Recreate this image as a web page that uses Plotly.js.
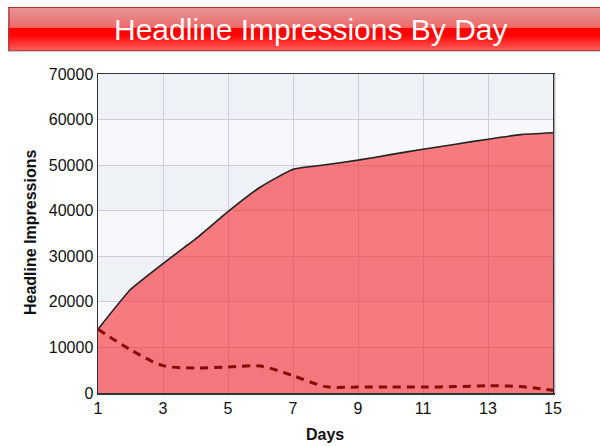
<!DOCTYPE html>
<html>
<head>
<meta charset="utf-8">
<script src="https://cdn.plot.ly/plotly-3.0.1.min.js"></script>
<style>html,body{margin:0;padding:0;background:#fff;}#chart{width:600px;height:446px;}</style>
</head>
<body>
<div id="chart"></div>
<script>
var days = [1,2,3,4,5,6,7,8,9,10,11,12,13,14,15];
var totalImpressions = [14000,22700,28400,33800,39800,45200,49100,50100,51100,52300,53500,54600,55700,56700,57100];
var newImpressions = [14000,9500,6000,5500,5700,5900,3800,1400,1300,1300,1300,1400,1600,1400,600];
var xTicks = [1,3,5,7,9,11,13,15];
var yTicks = [0,10000,20000,30000,40000,50000,60000,70000];
var titleText = 'Headline Impressions By Day';
var xTitle = 'Days';
var yTitle = 'Headline Impressions';

var M = {l:98, r:47, t:74, b:53};
var W = 600, H = 446;
var pw = W - M.l - M.r, ph = H - M.t - M.b;
function px2x(p){ return (p - M.l) / pw; }
function py2y(p){ return (H - M.b - p) / ph; }

var shapes = [];
// alternating background bands
[[0,10000],[20000,30000],[40000,50000],[60000,70000]].forEach(function(b){
  shapes.push({type:'rect', xref:'paper', yref:'y', x0:0, x1:1, y0:b[0], y1:b[1],
    fillcolor:'#eef1f5', line:{width:0}, layer:'below'});
});

// title bar gradient
var stops = [
  [7,[185,45,45]],
  [8,[230,150,150]],
  [26,[238,108,108]],
  [27,[244,95,95]],
  [28,[255,0,0]],
  [35,[255,5,5]],
  [49,[255,88,88]],
  [50,[195,70,70]],
  [51,[205,200,200]]
];
function colAt(y){
  for (var i=0;i<stops.length-1;i++){
    var a=stops[i], b=stops[i+1];
    if (y>=a[0] && y<=b[0]){
      var t=(b[0]===a[0])?0:(y-a[0])/(b[0]-a[0]);
      var c=a[1].map(function(v,k){return Math.round(v+(b[1][k]-v)*t);});
      return 'rgb('+c.join(',')+')';
    }
  }
  return 'rgb(255,255,255)';
}
for (var yy=7; yy<52; yy++){
  shapes.push({type:'rect', xref:'paper', yref:'paper', x0:px2x(8), x1:px2x(601),
    y0:py2y(yy+1), y1:py2y(yy), fillcolor:colAt(yy), line:{width:0}, layer:'above'});
}
shapes.push({type:'rect', xref:'paper', yref:'paper', x0:px2x(8), x1:px2x(10),
  y0:py2y(50), y1:py2y(8), fillcolor:'rgba(170,60,60,0.6)', line:{width:0}, layer:'above'});
// right plot shadow
shapes.push({type:'line', xref:'paper', yref:'paper', x0:px2x(555), x1:px2x(555),
  y0:0, y1:1, line:{color:'#d8d8d8', width:1.5}, layer:'above'});

var traces = [
  {x:days, y:totalImpressions, type:'scatter', mode:'lines', fill:'tozeroy',
   fillcolor:'rgba(247,38,45,0.6)', line:{color:'#222', width:1.6, shape:'spline', smoothing:0.4},
   hoverinfo:'skip'},
  {x:days, y:newImpressions, type:'scatter', mode:'lines',
   line:{color:'#8a0a0a', width:3, dash:'8px,6px', shape:'spline', smoothing:0.8},
   hoverinfo:'skip'}
];

var layout = {
  width:W, height:H, margin:M, showlegend:false,
  paper_bgcolor:'#ffffff', plot_bgcolor:'#f7f8fb',
  font:{family:'Liberation Sans, Arial, sans-serif', color:'#111'},
  xaxis:{range:[1,15], tickvals:xTicks, ticktext:xTicks.map(String), showgrid:true,
    gridcolor:'#cfcbe0', gridwidth:1, zeroline:false, showline:true, linecolor:'#333',
    linewidth:1.5, mirror:true, ticks:'', tickfont:{size:16, color:'#111'}, fixedrange:true},
  yaxis:{range:[0,70000], tickvals:yTicks, ticktext:yTicks.map(String), showgrid:true,
    gridcolor:'#cfcbe0', gridwidth:1, zeroline:false, showline:true, linecolor:'#333',
    linewidth:1.5, mirror:true, ticks:'', tickfont:{size:16, color:'#111'}, fixedrange:true},
  shapes:shapes,
  annotations:[
    {text:titleText, xref:'paper', yref:'paper', x:px2x(311), y:py2y(29), showarrow:false,
     xanchor:'center', yanchor:'middle', font:{size:30, color:'#ffffff', family:'Liberation Sans, Arial, sans-serif'}},
    {text:'<b>'+xTitle+'</b>', xref:'paper', yref:'paper', x:px2x(325), y:py2y(434), showarrow:false,
     xanchor:'center', yanchor:'middle', font:{size:16, color:'#111'}},
    {text:'<b>'+yTitle+'</b>', xref:'paper', yref:'paper', x:px2x(30), y:py2y(233), showarrow:false,
     textangle:-90, xanchor:'center', yanchor:'middle', font:{size:16, color:'#111'}}
  ]
};
Plotly.newPlot('chart', traces, layout, {staticPlot:true, displayModeBar:false});
</script>
</body>
</html>
